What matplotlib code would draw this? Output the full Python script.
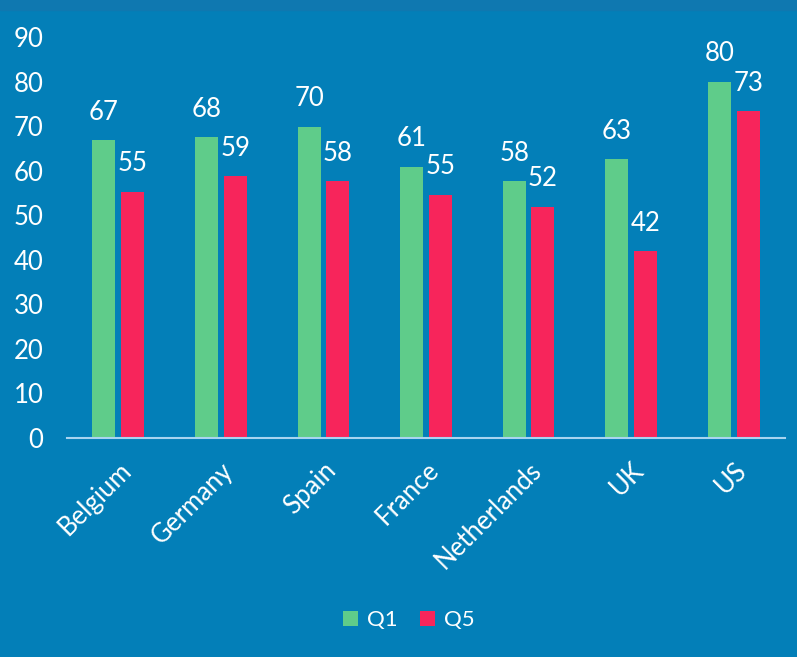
import numpy as np
import matplotlib.pyplot as plt
from matplotlib.patches import Rectangle

# data
countries = ['Belgium', 'Germany', 'Spain', 'France', 'Netherlands', 'UK', 'US']
q1 = [66.9, 67.6, 69.9, 60.9, 57.6, 62.6, 80.0]
q5 = [55.3, 58.7, 57.7, 54.6, 51.9, 41.9, 73.3]

bg = '#037fb8'
green = '#5fcc8a'
pink = '#f7255b'

plt.rcParams['font.family'] = ['Lato', 'DejaVu Sans']

fig = plt.figure(figsize=(7.97, 6.57), dpi=100, facecolor=bg)
fig.patches.append(Rectangle((0, 0.985), 1, 0.015, transform=fig.transFigure,
                             color='#0f78b0', zorder=0))
ax = fig.add_axes([0.084, 0.3333, 0.901, 0.6104])
ax.set_facecolor(bg)

x = np.arange(len(countries))
w = 0.225
off = 0.14
b1 = ax.bar(x - off, q1, w, color=green, label='Q1')
b2 = ax.bar(x + off, q5, w, color=pink, label='Q5')
for bars in (b1, b2):
    ax.bar_label(bars, fmt='%.0f', padding=11, color='white', fontsize=18.5)

ax.set_xlim(-0.5, 6.5)
ax.set_ylim(0, 90)
ax.set_yticks(range(0, 91, 10))
ax.tick_params(axis='y', length=0, pad=17, labelcolor='white', labelsize=18.5)
ax.tick_params(axis='x', length=0, pad=14, labelcolor='white', labelsize=18.5)
ax.set_xticks(x)
ax.set_xticklabels(countries, rotation=45, ha='right', rotation_mode='anchor')
for s in ['top', 'right', 'left']:
    ax.spines[s].set_visible(False)
ax.spines['bottom'].set_color('#a8d4f0')
ax.spines['bottom'].set_linewidth(1.5)

leg = ax.legend(loc='center', bbox_to_anchor=(0.476, -0.454), ncol=2, frameon=False,
                fontsize=16, handlelength=0.7, handleheight=0.7, handletextpad=0.4,
                columnspacing=1.0)
for t in leg.get_texts():
    t.set_color('white')

fig.savefig('out.png', dpi=100, facecolor=bg)
